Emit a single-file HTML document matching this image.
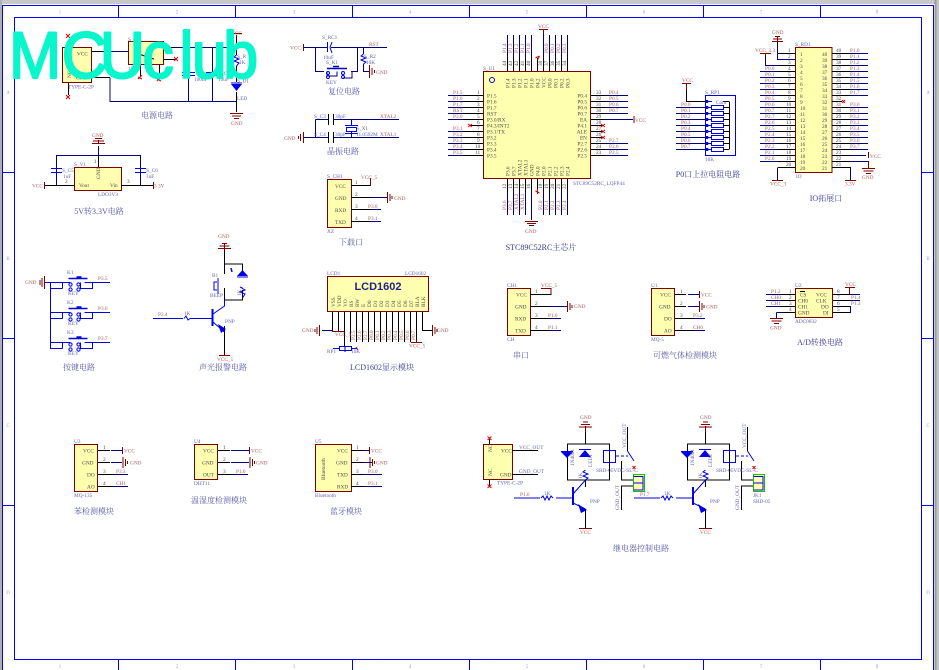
<!DOCTYPE html>
<html><head><meta charset="utf-8"><style>
html,body{margin:0;padding:0;background:#fff;width:939px;height:670px;overflow:hidden}
svg{display:block;font-family:"Liberation Serif","Noto Serif CJK SC",serif}
path,rect,circle{fill:none}
path.fb{fill:#0000e6;stroke:none}
.w{stroke:#000080;stroke-width:1}.p{stroke:#000;stroke-width:1}.r{stroke:#800000;stroke-width:1}
.b{stroke:#0000e0;stroke-width:1}.x{stroke:#e00000;stroke-width:1}.f{stroke:#00f;stroke-width:1}
.bx{fill:#ffffb0;stroke:#800000;stroke-width:1}
text{font-size:5.3px;fill:#555}
.l text,text.l{fill:#a86060}.n text,text.n{fill:#6464b4}.d text,text.d{fill:#4a4a4a}
.t{font-size:8px;fill:#5a5aa8;text-anchor:middle}
.m text{text-anchor:end}
.c{font-size:5px;fill:#9a9af0;text-anchor:middle}
</style></head><body>
<svg width="939" height="670" viewBox="0 0 939 670" xmlns="http://www.w3.org/2000/svg">
<defs>
<g id="key">
<path class="b" d="M0 0H20M34 0H42M12 0V6M0 0V6H12M42 0V6H30M30 0V6"/>
<circle class="b" cx="20" cy="2" r="1.6"/><circle class="b" cx="20" cy="7" r="1.6"/>
<circle class="b" cx="28" cy="2" r="1.6"/><circle class="b" cx="28" cy="7" r="1.6"/>
<path stroke="#0000e0" stroke-width="1.6" d="M18 -4H37M26 -5.500H31"/>
</g>
<g id="relay">
<path class="p" d="M585.500 426V444M567.500 444H609.500V480H567.500ZM585.500 480V487M585.500 509V528M572 498H560M627.500 427V451M621.500 461V480H633M621.500 510V486H633"/>
<path class="b" d="M585.500 480L573 494M573 503L585.500 509M627.500 451L634 461M514 498H540M556 498H572"/>
<path class="b" stroke-dasharray="3 2" d="M616 456H628"/>
<path stroke="#00e" stroke-width="2" d="M573 487V505"/>
<path class="fb" d="M561 452H573L567 458ZM579 457H591L585 450Z"/>
<path class="fb" d="M578 504L587 510L581 513Z"/>
<path class="b" d="M561 451.500H573M579 449.500H591M585.500 470L583 472L588 474L583 476L588 478L585.500 480M541 498L543 496L545 500L547 496L549 500L551 496L553 498"/>
<rect class="b" x="603.500" y="450.500" width="12" height="12"/>
<path class="r" d="M585.500 432V428M579 427H592M581 424.500H590M583 422H588M579 528.500H592"/>
<path class="x" d="M632.500 466L635.500 469M635.500 466L632.500 469"/>
<rect fill="#ffffb0" stroke="#10c010" stroke-width="1" x="633.500" y="474.500" width="11" height="17" style="fill:#ffffb0"/>
<path class="b" d="M633.500 476.500H643V490H633.500M633.500 483H643"/>
</g>
</defs>

<!-- window edges -->
<rect x="0" y="0" width="939" height="4" style="fill:#c8c8c8"/>
<rect x="0" y="0" width="2" height="670" style="fill:#b0b0b0"/>
<rect x="934.500" y="0" width="2" height="670" style="fill:#9a9a9a"/>
<rect x="936.500" y="0" width="2.500" height="670" style="fill:#c4c4c4"/>

<!-- frame -->
<path class="f" d="M2.500 670V5.500H933.500V670M14.500 17.500H921.500V659.500H14.500ZM118.500 5V17M235.500 5V17M352.500 5V17M469.500 5V17M586.500 5V17M703.500 5V17M820.500 5V17M118.500 659V670M235.500 659V670M352.500 659V670M469.500 659V670M586.500 659V670M703.500 659V670M820.500 659V670M2 172.500H14M2 338.500H14M2 505.500H14M922 172.500H934M922 338.500H934M922 505.500H934"/>
<text class="c" x="60" y="13.500">1</text><text class="c" x="177" y="13.500">2</text><text class="c" x="294" y="13.500">3</text><text class="c" x="410" y="13.500">4</text><text class="c" x="527" y="13.500">5</text><text class="c" x="644" y="13.500">6</text><text class="c" x="761" y="13.500">7</text><text class="c" x="877" y="13.500">8</text>
<text class="c" x="60" y="668">1</text><text class="c" x="177" y="668">2</text><text class="c" x="294" y="668">3</text><text class="c" x="410" y="668">4</text><text class="c" x="527" y="668">5</text><text class="c" x="644" y="668">6</text><text class="c" x="761" y="668">7</text><text class="c" x="877" y="668">8</text>
<text class="c" x="8" y="94">A</text><text class="c" x="8" y="260">B</text><text class="c" x="8" y="427">C</text><text class="c" x="8" y="594">D</text>
<text class="c" x="928" y="94">A</text><text class="c" x="928" y="260">B</text><text class="c" x="928" y="427">C</text><text class="c" x="928" y="594">D</text>

<!-- power -->
<rect class="bx" x="62.500" y="47.500" width="29" height="35"/>
<rect class="bx" x="128.500" y="41.500" width="35" height="23"/>
<path class="p" d="M91 51.500H110M91 77.500H110M68.500 42V47M68.500 83V95M163 47.500H175M163 59.500H176M140.500 65V77M159.500 65V79"/>
<path class="w" d="M110 51.500H128M175 47.500H236.500M110 77.500V101.500H236.500M188.500 47.500V72M188.500 76V101M212.500 47.500V101"/>
<path class="p" d="M236.500 37V55M236.500 66V82M236.500 92V112M139 54L150 58L154 59"/>
<path class="r" d="M236.500 35V37M231 33.500H242M230 113.500H243M232 116H241M234 118.500H239"/>
<path class="b" d="M182 72.500H195M182 75.500H195M206 72.500H219M206 75.500H219M236.500 55L234 57L239 59L234 61L239 63L236.500 66M231 83H242"/>
<path class="fb" d="M231 84H242L236.500 91Z"/>
<path class="x" d="M66 34L70 38M70 34L66 38M66 95L70 99M70 95L66 99M174 57L178 61M178 57L174 61M138 77L142 79M142 75L138 79M157 79L161 81M161 77L157 81"/>
<g class="d"><text x="77" y="55.500">VCC</text><text x="76" y="79.500">GND</text><text transform="translate(71,54) rotate(-90)">NC</text><text transform="translate(71,78) rotate(-90)">NC</text></g>
<g class="n"><text x="128" y="41">S_V1</text><text x="68" y="88.500">TYPE-C-2P</text><text x="128" y="70">1N4B</text><text x="237" y="58">S_R</text><text x="239" y="64">1K</text><text x="237" y="82.500">S_D1</text><text x="218" y="75">S_C</text><text x="194" y="81">100nF</text><text x="218" y="81">10uF</text><text x="237" y="100">LED</text></g>
<g class="l"><text x="231" y="35">VCC</text><text x="231" y="125">GND</text></g>
<text class="t" x="157" y="118">电源电路</text>

<!-- 5V to 3.3V -->
<rect class="bx" x="74.500" y="167.500" width="47" height="23"/>
<path class="w" d="M56.500 185.500V155.500H140.500V185.500M98.500 146V167"/>
<path class="p" d="M45 185.500H74M121 185.500H153M98.500 155V167"/>
<path class="r" d="M44.500 182V189M153.500 182V189M98.500 140V144M92 143.500H105M93 141H104M95 138.500H102"/>
<path class="b" d="M51 168.500H62M51 172.500H62M135 168.500H146M135 172.500H146"/>
<g class="d"><text x="79" y="187">Vout</text><text x="110" y="187">Vin</text><text transform="translate(100,179) rotate(-90)">GND</text><text x="65" y="183">2</text><text x="127" y="183">3</text><text x="94" y="163">1</text></g>
<g class="n"><text x="74" y="166">S_V1</text><text x="62" y="172">S_C5</text><text x="63" y="178">1uF</text><text x="146" y="172">S_C6</text><text x="146" y="178">1uF</text><text x="98" y="196">LDO3V3</text></g>
<g class="l"><text x="32" y="187.500">VCC</text><text x="154" y="187.500">3.3V</text><text x="92" y="137">GND</text></g>
<text class="t" x="99" y="214">5V转3.3V电路</text>

<!-- reset -->
<path class="w" d="M304 47.500H327M331 47.500H387M315.500 47.500V71.500H324M357.500 47.500V71.500H351M363.500 47.500V54M363.500 64V71.500H369M337 71.500V76H327V71.500M352 71.500V78H343"/>
<path class="b" d="M327.500 42V52M332 42L330 47.500L332 53M363.500 54L361 56L366 58L361 60L366 62L363.500 64"/>
<path stroke="#0000c0" stroke-width="1.500" d="M327 68.500H347M333 66.500H339"/>
<circle class="b" cx="328" cy="73" r="1.500"/><circle class="b" cx="343" cy="73" r="1.500"/><circle class="b" cx="343" cy="77" r="1.500"/><circle class="b" cx="328" cy="77" r="1.500"/>
<path class="r" d="M303.500 44V51M369.500 65V78M372 68V75M374.500 70V73"/>
<g class="l"><text x="290" y="49.500">VCC</text><text x="369" y="46">RST</text><text x="376" y="74">GND</text></g>
<g class="n"><text x="322" y="39">S_RC1</text><text x="323" y="59">10uF</text><text x="326" y="64">S_K1</text><text x="326" y="84">KEY</text><text x="364" y="58">S_R2</text><text x="366" y="64">10K</text></g>
<text class="t" x="344" y="94">复位电路</text>

<!-- crystal -->
<path class="w" d="M315.500 119.500H328M334 119.500H399M315.500 119.500V137.500H328M334 137.500H399M351.500 119.500V126M351.500 131V137.500M304 137.500H316"/>
<path class="p" d="M328.500 114V125M333.500 114V125M328.500 132V143M333.500 132V143"/>
<rect class="b" x="346.500" y="127.500" width="10" height="4"/>
<path class="b" d="M345 125.500H358M345 133.500H358"/>
<path class="r" d="M303.500 132V143M300.500 134V141M298.500 136V139"/>
<g class="l"><text x="284" y="140">GND</text><text x="380" y="118">XTAL2</text><text x="380" y="136">XTAL1</text></g>
<g class="n"><text x="314" y="118">S_C3</text><text x="335" y="118">30pF</text><text x="314" y="136">S_C4</text><text x="335" y="136">30pF</text><text x="356" y="130">S_X1</text><text x="356" y="136">11.0592M</text></g>
<text class="t" x="343" y="154">晶振电路</text>

<!-- download -->
<rect class="bx" x="327.500" y="179.500" width="24" height="48"/>
<path class="p" d="M351 185.500H370M351 197.500H370M351 209.500H370M351 221.500H370"/>
<path class="w" d="M370 197.500H387M370 209.500H381M370 221.500H381"/>
<path class="r" d="M370.500 186V178M387.500 192V203M390 194V201M392 196V199"/>
<g class="d"><text x="335" y="188">VCC</text><text x="335" y="200">GND</text><text x="335" y="212">RXD</text><text x="335" y="224">TXD</text><text x="355" y="184">1</text><text x="355" y="196">2</text><text x="355" y="208">3</text><text x="355" y="220">4</text></g>
<g class="l"><text x="361" y="179">VCC_5</text><text x="394" y="200">GND</text><text x="368" y="208">P3.0</text><text x="368" y="220">P3.1</text></g>
<g class="n"><text x="327" y="178">S_CH1</text><text x="327" y="233">XZ</text></g>
<text class="t" x="351" y="245">下载口</text>

<!-- MCU -->
<rect class="bx" x="483.500" y="71.500" width="107" height="107"/>
<circle stroke="#0000e0" stroke-width="1" cx="492" cy="80" r="2.500"/>
<path class="p" d="M463 95.500H483M463 101.500H483M463 107.500H483M463 113.500H483M463 119.500H483M470 125.500H483M463 131.500H483M463 137.500H483M463 143.500H483M463 149.500H483M463 155.500H483M591 95.500H605M591 101.500H605M591 107.500H605M591 113.500H605M591 119.500H605M591 125.500H603M591 131.500H603M591 137.500H603M591 143.500H605M591 149.500H605M591 155.500H605M507.500 58V71M513.500 58V71M519.500 58V71M525.500 58V71M531.500 58V71M537.500 58V71M543.500 58V71M549.500 58V71M555.500 58V71M561.500 58V71M567.500 58V71M507.500 179V191M513.500 179V191M519.500 179V191M525.500 179V191M531.500 179V191M537.500 179V191M543.500 179V191M549.500 179V191M555.500 179V191M561.500 179V191M567.500 179V191"/>
<path class="w" d="M448 95.500H463M448 101.500H463M448 107.500H463M448 113.500H463M448 119.500H463M448 131.500H463M448 137.500H463M448 143.500H463M448 149.500H463M448 155.500H463M605 95.500H628M605 101.500H628M605 107.500H628M605 113.500H628M605 119.500H633M605 143.500H628M605 149.500H628M605 155.500H628M507.500 35V58M513.500 35V58M519.500 35V58M525.500 35V58M531.500 35V58M543.500 30V58M549.500 35V58M555.500 35V58M561.500 35V58M567.500 35V58M507.500 191V215M513.500 191V215M519.500 191V215M525.500 191V215M531.500 191V220M543.500 191V215M549.500 191V215M555.500 191V215M561.500 191V215M567.500 191V215"/>
<path class="x" d="M468 124L472 127M472 124L468 127M601 124L605 127M605 124L601 127M601 130L605 133M605 130L601 133M601 136L605 139M605 136L601 139M535.500 58L539.500 56M537.500 60L539.500 56M535.500 191L539.500 193M537.500 189L537.500 194"/>
<path class="r" d="M634 116V123M539 29.500H548M543.500 29.500V33M525 221.500H538M527 223.500H536M529 225.500H534"/>
<g class="d">
<text x="487" y="97.500">P1.5</text><text x="487" y="103.500">P1.6</text><text x="487" y="109.500">P1.7</text><text x="487" y="115.500">RST</text><text x="487" y="121.500">P3.0/RX</text><text x="487" y="127.500">P4.3/INT2</text><text x="487" y="133.500">P3.1/TX</text><text x="487" y="139.500">P3.2</text><text x="487" y="145.500">P3.3</text><text x="487" y="151.500">P3.4</text><text x="487" y="157.500">P3.5</text>
<text x="477" y="94">1</text><text x="477" y="100">2</text><text x="477" y="106">3</text><text x="477" y="112">4</text><text x="477" y="118">5</text><text x="477" y="124">6</text><text x="477" y="130">7</text><text x="477" y="136">8</text><text x="477" y="142">9</text><text x="475" y="148">10</text><text x="475" y="154">11</text>
<text x="596" y="94">33</text><text x="596" y="100">32</text><text x="596" y="106">31</text><text x="596" y="112">30</text><text x="596" y="118">29</text><text x="596" y="124">28</text><text x="596" y="130">27</text><text x="596" y="136">26</text><text x="596" y="142">25</text><text x="596" y="148">24</text><text x="596" y="154">23</text>
</g>
<g class="d m">
<text x="587" y="97.500">P0.4</text><text x="587" y="103.500">P0.5</text><text x="587" y="109.500">P0.6</text><text x="587" y="115.500">P0.7</text><text x="587" y="121.500">EA</text><text x="587" y="127.500">P4.1</text><text x="587" y="133.500">ALE</text><text x="587" y="139.500">EN</text><text x="587" y="145.500">P2.7</text><text x="587" y="151.500">P2.6</text><text x="587" y="157.500">P2.5</text>
</g>
<g class="d">
<text transform="translate(509.500,88) rotate(-90)">P1.4</text><text transform="translate(515.500,88) rotate(-90)">P1.3</text><text transform="translate(521.500,88) rotate(-90)">P1.2</text><text transform="translate(527.500,88) rotate(-90)">P1.1</text><text transform="translate(533.500,88) rotate(-90)">P1.0</text><text transform="translate(539.500,88) rotate(-90)">P4.2</text><text transform="translate(545.500,88) rotate(-90)">VCC</text><text transform="translate(551.500,88) rotate(-90)">P0.0</text><text transform="translate(557.500,88) rotate(-90)">P0.1</text><text transform="translate(563.500,88) rotate(-90)">P0.2</text><text transform="translate(569.500,88) rotate(-90)">P0.3</text>
<text transform="translate(509.500,176) rotate(-90)">P3.6</text><text transform="translate(515.500,176) rotate(-90)">P3.7</text><text transform="translate(521.500,176) rotate(-90)">XTAL2</text><text transform="translate(527.500,176) rotate(-90)">XTAL1</text><text transform="translate(533.500,176) rotate(-90)">GND</text><text transform="translate(539.500,176) rotate(-90)">P4.0</text><text transform="translate(545.500,176) rotate(-90)">P2.0</text><text transform="translate(551.500,176) rotate(-90)">P2.1</text><text transform="translate(557.500,176) rotate(-90)">P2.2</text><text transform="translate(563.500,176) rotate(-90)">P2.3</text><text transform="translate(569.500,176) rotate(-90)">P2.4</text>
<text transform="translate(506,66) rotate(-90)">44</text><text transform="translate(512,66) rotate(-90)">43</text><text transform="translate(518,66) rotate(-90)">42</text><text transform="translate(524,66) rotate(-90)">41</text><text transform="translate(530,66) rotate(-90)">40</text><text transform="translate(542,66) rotate(-90)">38</text><text transform="translate(548,66) rotate(-90)">37</text><text transform="translate(554,66) rotate(-90)">36</text><text transform="translate(560,66) rotate(-90)">35</text><text transform="translate(566,66) rotate(-90)">34</text>
<text transform="translate(506,189) rotate(-90)">12</text><text transform="translate(512,189) rotate(-90)">13</text><text transform="translate(518,189) rotate(-90)">14</text><text transform="translate(524,189) rotate(-90)">15</text><text transform="translate(530,189) rotate(-90)">16</text><text transform="translate(542,189) rotate(-90)">18</text><text transform="translate(548,189) rotate(-90)">19</text><text transform="translate(554,189) rotate(-90)">20</text><text transform="translate(560,189) rotate(-90)">21</text><text transform="translate(566,189) rotate(-90)">22</text>
</g>
<g class="l">
<text x="453" y="94">P1.5</text><text x="453" y="100">P1.6</text><text x="453" y="106">P1.7</text><text x="453" y="112">RST</text><text x="453" y="118">P3.0</text><text x="453" y="130">P3.1</text><text x="453" y="136">P3.2</text><text x="453" y="142">P3.3</text><text x="453" y="148">P3.4</text><text x="453" y="154">P3.5</text>
<text x="609" y="94">P0.4</text><text x="609" y="100">P0.5</text><text x="609" y="106">P0.6</text><text x="609" y="112">P0.7</text><text x="609" y="142">P2.7</text><text x="609" y="148">P2.6</text><text x="609" y="154">P2.5</text>
<text x="635" y="122">VCC</text><text x="538" y="28">VCC</text><text x="525" y="233">GND</text>
<text transform="translate(506,53) rotate(-90)">P1.4</text><text transform="translate(512,53) rotate(-90)">P1.3</text><text transform="translate(518,53) rotate(-90)">P1.2</text><text transform="translate(524,53) rotate(-90)">P1.1</text><text transform="translate(530,53) rotate(-90)">P1.0</text><text transform="translate(548,53) rotate(-90)">P0.0</text><text transform="translate(554,53) rotate(-90)">P0.1</text><text transform="translate(560,53) rotate(-90)">P0.2</text><text transform="translate(566,53) rotate(-90)">P0.3</text>
<text transform="translate(506,210) rotate(-90)">P3.6</text><text transform="translate(512,210) rotate(-90)">P3.7</text><text transform="translate(518,210) rotate(-90)">XTAL2</text><text transform="translate(524,210) rotate(-90)">XTAL1</text><text transform="translate(542,210) rotate(-90)">P2.0</text><text transform="translate(548,210) rotate(-90)">P2.1</text><text transform="translate(554,210) rotate(-90)">P2.2</text><text transform="translate(560,210) rotate(-90)">P2.3</text><text transform="translate(566,210) rotate(-90)">P2.4</text>
</g>
<g class="n"><text x="483" y="70">S_U1</text><text x="573" y="185">STC89C52RC_LQFP44</text></g>
<text class="t" x="541" y="250" style="fill:#3a3a90">STC89C52RC主芯片</text>

<!-- P0 pullup -->
<path class="p" d="M686.500 85V101.500H705"/>
<path class="r" d="M686.500 84V90M682 83.500H691"/>
<rect class="b" x="705.500" y="95.500" width="30" height="60"/>
<path class="w" d="M676 107.500H705M676 113.500H705M676 119.500H705M676 125.500H705M676 131.500H705M676 137.500H705M676 143.500H705M676 149.500H705"/>
<path class="b" d="M705 101.500H712M705 107.500H711M705 113.500H711M705 119.500H711M705 125.500H711M705 131.500H711M705 137.500H711M705 143.500H711M705 149.500H711"/>
<path stroke="#0000e0" stroke-width="2.500" d="M707 100V103M707 106V109M707 112V115M707 118V121M707 124V127M707 130V133M707 136V139M707 142V145M707 148V151"/>
<path class="p" d="M729.500 101.500V149.500M723 101.500H729M723 107.500H729M723 113.500H729M723 119.500H729M723 125.500H729M723 131.500H729M723 137.500H729M723 143.500H729M723 149.500H729"/>
<path class="b" d="M711.500 105.500H723.500V109.500H711.500ZM711.500 111.500H723.500V115.500H711.500ZM711.500 117.500H723.500V121.500H711.500ZM711.500 123.500H723.500V127.500H711.500ZM711.500 129.500H723.500V133.500H711.500ZM711.500 135.500H723.500V139.500H711.500ZM711.500 141.500H723.500V145.500H711.500ZM711.500 147.500H723.500V151.500H711.500Z"/>
<g class="l"><text x="682" y="82">VCC</text><text x="681" y="106">P0.0</text><text x="681" y="112">P0.1</text><text x="681" y="118">P0.2</text><text x="681" y="124">P0.3</text><text x="681" y="130">P0.4</text><text x="681" y="136">P0.5</text><text x="681" y="142">P0.6</text><text x="681" y="148">P0.7</text></g>
<g class="n"><text x="705" y="94">S_RP1</text><text x="705" y="161">10K</text><text x="716" y="104">Com</text></g>
<text class="t" x="708" y="177" style="fill:#3f3f98">P0口上拉电阻电路</text>

<!-- IO header -->
<rect class="bx" x="795.500" y="47.500" width="36.500" height="125"/>
<path class="p" d="M778 53.500H795M778 59.500H795M778 65.500H795M778 71.500H795M778 77.500H795M778 83.500H795M778 89.500H795M778 95.500H795M778 101.500H795M778 107.500H795M778 113.500H795M778 119.500H795M778 125.500H795M778 131.500H795M778 137.500H795M778 143.500H795M778 149.500H795M778 155.500H795M778 161.500H795M778 167.500H795M832 53.500H850M832 59.500H850M832 65.500H850M832 71.500H850M832 77.500H850M832 83.500H850M832 89.500H850M832 95.500H850M832 101.500H842M832 107.500H850M832 113.500H850M832 119.500H850M832 125.500H850M832 131.500H850M832 137.500H850M832 143.500H850M832 149.500H850M832 155.500H850M832 161.500H850M832 167.500H850"/>
<path class="w" d="M777.500 42V59.500H795M765.500 54V65.500H780M760 71.500H778M760 77.500H778M760 83.500H778M760 89.500H778M760 95.500H778M760 101.500H778M760 107.500H778M760 113.500H778M760 119.500H778M760 125.500H778M760 131.500H778M760 137.500H778M760 143.500H778M760 149.500H778M760 155.500H778M760 161.500H778M777.500 167.500V180M850 53.500H868M850 59.500H868M850 65.500H868M850 71.500H868M850 77.500H868M850 83.500H868M850 89.500H868M850 95.500H868M850 107.500H868M850 113.500H868M850 119.500H868M850 125.500H868M850 131.500H868M850 137.500H868M850 143.500H868M850 149.500H868M850 155.500H866M850 161.500H868.500V167M850 167.500H850.500V180"/>
<path class="x" d="M842 100L845 103M845 100L842 103"/>
<path class="r" d="M777.500 36V42M772 41.500H783M773 39H782M775 36.500H780M760 53.500H771M765.500 53.500V56M772 180.500H783M845 180.500H856M868.500 152V158M868.500 162V168M862 168.500H875M863.500 171H873.500M866 173.500H871"/>
<g class="d"><text x="800" y="56">1</text><text x="800" y="62">2</text><text x="800" y="68">3</text><text x="800" y="74">4</text><text x="800" y="80">5</text><text x="800" y="86">6</text><text x="800" y="92">7</text><text x="800" y="98">8</text><text x="800" y="104">9</text><text x="800" y="110">10</text><text x="800" y="116">11</text><text x="800" y="122">12</text><text x="800" y="128">13</text><text x="800" y="134">14</text><text x="800" y="140">15</text><text x="800" y="146">16</text><text x="800" y="152">17</text><text x="800" y="158">18</text><text x="800" y="164">19</text><text x="800" y="170">20</text>
<text x="822" y="56">40</text><text x="822" y="62">39</text><text x="822" y="68">38</text><text x="822" y="74">37</text><text x="822" y="80">36</text><text x="822" y="86">35</text><text x="822" y="92">34</text><text x="822" y="98">33</text><text x="822" y="104">32</text><text x="822" y="110">31</text><text x="822" y="116">30</text><text x="822" y="122">29</text><text x="822" y="128">28</text><text x="822" y="134">27</text><text x="822" y="140">26</text><text x="822" y="146">25</text><text x="822" y="152">24</text><text x="822" y="158">23</text><text x="822" y="164">22</text><text x="822" y="170">21</text>
<text x="788" y="52">1</text><text x="788" y="58">2</text><text x="788" y="64">3</text><text x="788" y="70">4</text><text x="788" y="76">5</text><text x="788" y="82">6</text><text x="788" y="88">7</text><text x="788" y="94">8</text><text x="788" y="100">9</text><text x="786" y="106">10</text><text x="786" y="112">11</text><text x="786" y="118">12</text><text x="786" y="124">13</text><text x="786" y="130">14</text><text x="786" y="136">15</text><text x="786" y="142">16</text><text x="786" y="148">17</text><text x="786" y="154">18</text><text x="786" y="160">19</text><text x="786" y="166">20</text>
<text x="836" y="52">40</text><text x="836" y="58">39</text><text x="836" y="64">38</text><text x="836" y="70">37</text><text x="836" y="76">36</text><text x="836" y="82">35</text><text x="836" y="88">34</text><text x="836" y="94">33</text><text x="836" y="100">32</text><text x="836" y="106">31</text><text x="836" y="112">30</text><text x="836" y="118">29</text><text x="836" y="124">28</text><text x="836" y="130">27</text><text x="836" y="136">26</text><text x="836" y="142">25</text><text x="836" y="148">24</text><text x="836" y="154">23</text><text x="836" y="160">22</text><text x="836" y="166">21</text></g>
<g class="l"><text x="772" y="34">GND</text><text x="755" y="52">VCC_3.3</text>
<text x="765" y="70">P0.0</text><text x="765" y="76">P0.1</text><text x="765" y="82">P0.2</text><text x="765" y="88">P0.3</text><text x="765" y="94">P0.4</text><text x="765" y="100">P0.5</text><text x="765" y="106">P0.6</text><text x="765" y="112">P0.7</text><text x="765" y="118">P2.7</text><text x="765" y="124">P2.6</text><text x="765" y="130">P2.5</text><text x="765" y="136">P2.4</text><text x="765" y="142">P2.3</text><text x="765" y="148">P2.2</text><text x="765" y="154">P2.1</text><text x="765" y="160">P2.0</text>
<text x="850" y="52">P1.0</text><text x="850" y="58">P1.1</text><text x="850" y="64">P1.2</text><text x="850" y="70">P1.3</text><text x="850" y="76">P1.4</text><text x="850" y="82">P1.5</text><text x="850" y="88">P1.6</text><text x="850" y="94">P1.7</text><text x="850" y="106">P3.0</text><text x="850" y="112">P3.1</text><text x="850" y="118">P3.2</text><text x="850" y="124">P3.3</text><text x="850" y="130">P3.4</text><text x="850" y="136">P3.5</text><text x="850" y="142">P3.6</text><text x="850" y="148">P3.7</text>
<text x="870" y="158">VCC</text><text x="862" y="179">GND</text><text x="770" y="185.500">VCC_3</text><text x="845" y="185.500">3.3V</text></g>
<g class="n"><text x="795" y="46">S_RD1</text><text x="796" y="178">IO</text></g>
<text class="t" x="826" y="201" style="fill:#3f3f98">IO拓展口</text>

<!-- keys -->
<use href="#key" x="50.500" y="282.500"/><use href="#key" x="50.500" y="312.500"/><use href="#key" x="50.500" y="342.500"/>
<path class="b" d="M45 282.500H62M92 282.500H110M50.500 282.500V342.500M50 312.500H62M92 312.500H110M50 342.500H62M92 342.500H110"/>
<path class="r" d="M44.500 276V289M42 278V287M40 280V285"/>
<g class="l"><text x="25" y="284">GND</text><text x="98" y="280">P3.5</text><text x="98" y="310">P3.6</text><text x="98" y="340">P3.7</text></g>
<g class="n"><text x="67" y="274">K1</text><text x="67" y="304">K2</text><text x="67" y="334">K3</text><text x="68" y="295">KEY</text><text x="68" y="325">KEY</text><text x="68" y="355">KEY</text></g>
<text class="t" x="79" y="370">按键电路</text>

<!-- buzzer -->
<path class="p" d="M224.500 246V274M224.500 288V300M224.500 300H242.500V290M224.500 264H242.500V272M224.500 326V355"/>
<path class="b" d="M242.500 272V276M237 277H248M242.500 288L240 287L245 290L240 292L245 294L242.500 298M213 314L224.500 306V300M213 322L224.500 332M153 318.500H183M190 318.500H212M184 318.500L186 316L188 320L190 318.500M217 282H214V290H217M218 278V294"/>
<path class="fb" d="M237 276H248L242.500 270ZM218 324L226 329L221 333Z"/>
<path stroke="#00e" stroke-width="2" d="M212.500 309V326"/>
<path class="r" d="M224.500 244V248M218 248.500H231M219.500 246H229.500M222 243.500H227M219 355.500H230"/>
<path stroke="#00e" stroke-width="1.500" d="M231 268L232 272"/>
<g class="l"><text x="218" y="238">GND</text><text x="158" y="316">P2.4</text><text x="217" y="361">VCC_5</text></g>
<g class="n"><text x="212" y="277">B1</text><text x="210" y="297">BEEP</text><text x="184" y="315">1K</text><text x="225" y="323">PNP</text><text transform="translate(241,296) rotate(-90)">1K</text></g>
<text class="t" x="223" y="370">声光报警电路</text>

<!-- LCD -->
<rect class="bx" x="327.500" y="276.500" width="101" height="35"/>
<text x="378" y="290" style="font:bold 11px 'Liberation Sans',sans-serif;fill:#22228a;text-anchor:middle">LCD1602</text>
<path class="p" d="M332.500 312V331M338.500 312V331M344.500 312V346M350.500 312V342M356.500 312V342M362.500 312V342M368.500 312V342M374.500 312V342M380.500 312V342M386.500 312V342M392.500 312V342M398.500 312V342M404.500 312V342M410.500 312V342M416.500 312V342M422.500 312V330.500H432"/>
<path class="w" d="M322 330.500H333M345 352V346"/>
<path class="r" d="M319.500 325V336M317 327V334M315 329V332M332 331.500H344M416.500 342.500V340M411 342.500H422M432.500 325V336M435 327V334M437 329V332"/>
<rect class="b" x="339.500" y="346.500" width="12" height="4"/>
<path class="b" d="M333 348.500H339M352 348.500H357"/>
<path class="x" d="M356 347L358 350"/>
<g class="d">
<text transform="translate(335,307) rotate(-90)">VSS</text><text transform="translate(341,307) rotate(-90)">VDD</text><text transform="translate(347,307) rotate(-90)">VO</text><text transform="translate(353,307) rotate(-90)">RS</text><text transform="translate(359,307) rotate(-90)">RW</text><text transform="translate(365,307) rotate(-90)">E</text><text transform="translate(371,307) rotate(-90)">D0</text><text transform="translate(377,307) rotate(-90)">D1</text><text transform="translate(383,307) rotate(-90)">D2</text><text transform="translate(389,307) rotate(-90)">D3</text><text transform="translate(395,307) rotate(-90)">D4</text><text transform="translate(401,307) rotate(-90)">D5</text><text transform="translate(407,307) rotate(-90)">D6</text><text transform="translate(413,307) rotate(-90)">D7</text><text transform="translate(419,307) rotate(-90)">BLA</text><text transform="translate(425,307) rotate(-90)">BLK</text>
</g>
<g class="l"><text x="302" y="332">GND</text><text x="437" y="332">GND</text><text x="409" y="347.500">VCC_5</text><text x="335" y="336">VCC_5</text>
<text transform="translate(355,340) rotate(-90)">P2.5</text><text transform="translate(361,340) rotate(-90)">P2.6</text><text transform="translate(367,340) rotate(-90)">P2.7</text><text transform="translate(373,340) rotate(-90)">P0.0</text><text transform="translate(379,340) rotate(-90)">P0.1</text><text transform="translate(385,340) rotate(-90)">P0.2</text><text transform="translate(391,340) rotate(-90)">P0.3</text><text transform="translate(397,340) rotate(-90)">P0.4</text><text transform="translate(403,340) rotate(-90)">P0.5</text><text transform="translate(409,340) rotate(-90)">P0.6</text><text transform="translate(415,340) rotate(-90)">P0.7</text></g>
<g class="n"><text x="327" y="275">LCD1</text><text x="405" y="275">LCD1602</text><text x="327" y="353">RP1</text><text x="351" y="353">10K</text></g>
<text class="t" x="382" y="370" style="fill:#3f3f98">LCD1602显示模块</text>

<!-- serial -->
<rect class="bx" x="507.500" y="288.500" width="23" height="47"/>
<path class="p" d="M530 294.500H551V288M530 306.500H548M530 318.500H548M530 330.500H548"/>
<path class="w" d="M548 306.500H567M548 318.500H561M548 330.500H561"/>
<path class="r" d="M541 288.500H551V294M567.500 301V312M570 303V310M572 305V308"/>
<g class="d"><text x="516" y="296.500">VCC</text><text x="515" y="308.500">GND</text><text x="515" y="320.500">RXD</text><text x="515" y="332.500">TXD</text><text x="535" y="293">1</text><text x="535" y="305">2</text><text x="535" y="317">3</text><text x="535" y="329">4</text></g>
<g class="l"><text x="541" y="287">VCC_5</text><text x="574" y="308">GND</text><text x="548" y="317">P1.0</text><text x="548" y="329">P1.1</text></g>
<g class="n"><text x="507" y="287">CH1</text><text x="507" y="341">CH</text></g>
<text class="t" x="521" y="358">串口</text>

<!-- MQ-5 -->
<rect class="bx" x="651.500" y="288.500" width="23" height="47"/>
<path class="p" d="M675 294.500H686M675 306.500H686M675 318.500H694M675 330.500H694"/>
<path class="w" d="M688 294.500H699M688 306.500H699M694 318.500H705M694 330.500H705"/>
<path class="r" d="M699.500 291V298M699.500 301V312M702 303V310M704 305V308"/>
<g class="d"><text x="660" y="296.500">VCC</text><text x="659" y="308.500">GND</text><text x="664" y="320.500">DO</text><text x="664" y="332.500">AO</text><text x="680" y="293">1</text><text x="680" y="305">2</text><text x="680" y="317">3</text><text x="680" y="329">4</text></g>
<g class="l"><text x="701" y="296.500">VCC</text><text x="706" y="308.500">GND</text><text x="693" y="317">P3.2</text><text x="693" y="329">CH0</text></g>
<g class="n"><text x="651" y="287">U1</text><text x="651" y="341">MQ-5</text></g>
<text class="t" x="685" y="358">可燃气体检测模块</text>

<!-- ADC -->
<rect class="bx" x="795.500" y="288.500" width="37" height="29"/>
<path class="p" d="M781 294.500H795M781 300.500H795M781 306.500H795M781 312.500H795M833 294.500H850M833 300.500H850M833 306.500H850M833 312.500H850"/>
<path class="w" d="M766 294.500H781M766 300.500H781M766 306.500H781M776.500 312.500H781M776.500 312.500V318M850 294.500H860M850 300.500H860M850 306.500H850.500V313M850 312.500H851"/>
<path class="r" d="M770 318.500H783M771.500 321H781.500M774 323.500H779M849.500 288V294M845 287.500H855"/>
<path class="p" d="M800 291.500H805"/>
<g class="d"><text x="800" y="296.500">CS</text><text x="798" y="302.500">CH0</text><text x="798" y="308.500">CH1</text><text x="798" y="314.500">GND</text><text x="816" y="296.500">VCC</text><text x="816" y="302.500">CLK</text><text x="821" y="308.500">DO</text><text x="823" y="314.500">DI</text><text x="789" y="293">1</text><text x="789" y="299">2</text><text x="789" y="305">3</text><text x="789" y="311">4</text><text x="837" y="293">8</text><text x="837" y="299">7</text><text x="837" y="305">6</text><text x="837" y="311">5</text></g>
<g class="l"><text x="771" y="293">P1.2</text><text x="771" y="299">CH0</text><text x="771" y="305">CH1</text><text x="845" y="286">VCC</text><text x="851" y="299">P1.4</text><text x="851" y="305">P1.3</text><text x="770" y="329.500">GND</text></g>
<g class="n"><text x="795" y="287">U2</text><text x="795" y="323">ADC0832</text></g>
<text class="t" x="820" y="345" style="fill:#3f3f98">A/D转换电路</text>

<!-- U3 -->
<rect class="bx" x="74.500" y="444.500" width="23" height="47"/>
<path class="p" d="M98 450.500H110M98 462.500H110M98 474.500H114M98 486.500H114"/>
<path class="w" d="M111 450.500H122M111 462.500H122M114 474.500H128M114 486.500H128"/>
<path class="r" d="M122.500 447V454M123 457V468M125.500 459V466M127.500 461V464"/>
<g class="d"><text x="83" y="452.500">VCC</text><text x="82" y="464.500">GND</text><text x="87" y="476.500">DO</text><text x="87" y="488.500">AO</text><text x="103" y="449">1</text><text x="103" y="461">2</text><text x="103" y="473">3</text><text x="103" y="485">4</text></g>
<g class="l"><text x="124" y="452.500">VCC</text><text x="130" y="464.500">GND</text><text x="116" y="473">P3.3</text><text x="116" y="485">CH1</text></g>
<g class="n"><text x="74" y="443">U3</text><text x="74" y="497">MQ-135</text></g>
<text class="t" x="94" y="514">苯检测模块</text>

<!-- U4 -->
<rect class="bx" x="194.500" y="444.500" width="23" height="35"/>
<path class="p" d="M218 450.500H230M218 462.500H230M218 474.500H234"/>
<path class="w" d="M231 450.500H249M231 462.500H249M234 474.500H248"/>
<path class="r" d="M249.500 447V454M250 457V468M252.500 459V466M254.500 461V464"/>
<g class="d"><text x="203" y="452.500">VCC</text><text x="202" y="464.500">GND</text><text x="203" y="476.500">OUT</text><text x="223" y="449">1</text><text x="223" y="461">2</text><text x="223" y="473">3</text></g>
<g class="l"><text x="251" y="452.500">VCC</text><text x="256" y="464.500">GND</text><text x="236" y="473">P1.0</text></g>
<g class="n"><text x="194" y="443">U4</text><text x="194" y="485">DHT11</text></g>
<text class="t" x="219" y="503">温湿度检测模块</text>

<!-- U5 -->
<rect class="bx" x="315.500" y="444.500" width="36" height="47"/>
<path class="p" d="M351 450.500H364M351 462.500H364M351 474.500H364M351 486.500H364"/>
<path class="w" d="M364 450.500H369M364 462.500H372M364 474.500H382M364 486.500H382"/>
<path class="r" d="M369.500 447V454M370 457V468M372.500 459V466M374.500 461V464"/>
<g class="d"><text transform="translate(325,480) rotate(-90)" style="font-size:5.500px">Bluetooth</text><text x="337" y="452.500">VCC</text><text x="336" y="464.500">GND</text><text x="337" y="476.500">TXD</text><text x="337" y="488.500">RXD</text><text x="356" y="449">1</text><text x="356" y="461">2</text><text x="356" y="473">3</text><text x="356" y="485">4</text></g>
<g class="l"><text x="371" y="452.500">VCC</text><text x="376" y="464.500">GND</text><text x="368" y="473">P3.0</text><text x="368" y="485">P3.1</text></g>
<g class="n"><text x="315" y="443">U5</text><text x="315" y="497">Bluetooth</text></g>
<text class="t" x="346" y="514">蓝牙模块</text>

<!-- Type-C out -->
<rect class="bx" x="483.500" y="444.500" width="29" height="35"/>
<path class="p" d="M512 450.500H538M512 474.500H538M489.500 439V444M489.500 480V486"/>
<path class="x" d="M487.500 436.500L491.500 440M491.500 436.500L487.500 440M487.500 484.500L491.500 488M491.500 484.500L487.500 488"/>
<g class="d"><text x="501" y="452.500">VCC</text><text x="500" y="476.500">GND</text><text transform="translate(492,452) rotate(-90)">NC</text><text transform="translate(492,476) rotate(-90)">NC</text></g>
<g class="n"><text x="519" y="449">VCC_OUT</text><text x="519" y="473">GND_OUT</text><text x="497" y="484.500">TYPE-C-2P</text></g>

<!-- relays -->
<use href="#relay"/><use href="#relay" x="120"/>
<g class="l"><text x="580" y="419">GND</text><text x="700" y="419">GND</text><text x="520" y="496">P1.6</text><text x="640" y="496">P1.7</text><text x="580" y="534">VCC</text><text x="700" y="534">VCC</text></g>
<g class="n"><text x="544" y="495">1K</text><text x="664" y="495">1K</text><text x="590" y="503">PNP</text><text x="710" y="503">PNP</text><text x="596" y="472">SRD-05VDC-SL-C</text><text x="716" y="472">SRD-05VDC-SL-C</text><text x="753" y="497">JK1</text><text x="753" y="503">SRD-05</text>
<text transform="translate(574,466) rotate(-90)">1N4001</text><text transform="translate(694,466) rotate(-90)">1N4001</text><text transform="translate(592,467) rotate(-90)">LED1</text><text transform="translate(712,467) rotate(-90)">LED2</text><text transform="translate(582,479) rotate(-90)">1K</text><text transform="translate(702,479) rotate(-90)">1K</text>
<text transform="translate(626,448) rotate(-90)">VCC_OUT</text><text transform="translate(746,448) rotate(-90)">VCC_OUT</text><text transform="translate(619,510) rotate(-90)">GND_OUT</text><text transform="translate(739,510) rotate(-90)">GND_OUT</text></g>
<text class="t" x="641" y="551">继电器控制电路</text>

<!-- watermark -->
<text transform="scale(.95,1)" x="9.500 65 105 150 189 202 235" y="78" style="font-family:'Liberation Sans',sans-serif;font-size:66px;fill:#08f6cc;stroke:#08f6cc;stroke-width:2;stroke-linejoin:round">MCUclub</text>
</svg>
</body></html>
